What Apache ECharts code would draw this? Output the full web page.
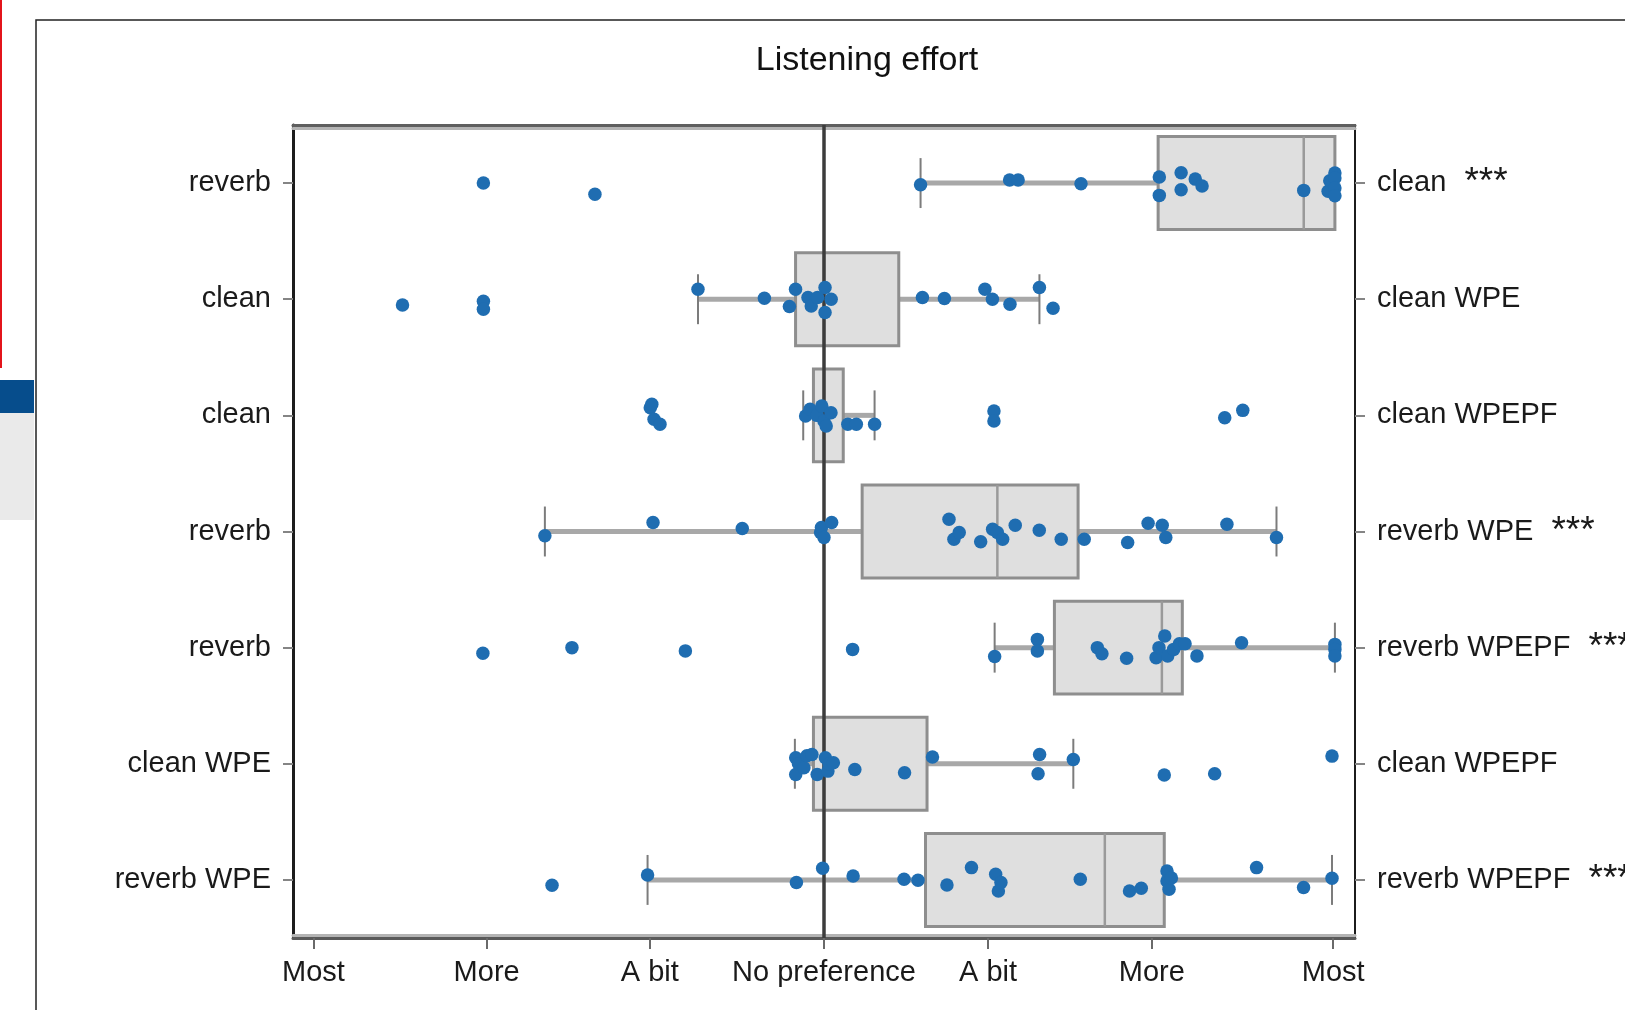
<!DOCTYPE html>
<html><head><meta charset="utf-8">
<script src="https://cdn.jsdelivr.net/npm/echarts@6/dist/echarts.min.js"></script>
<style>html,body{margin:0;padding:0;background:#fff;overflow:hidden;} #c{width:1625px;height:1010px;}</style>
</head><body><div id="c"></div>
<script>
// ---- data ----
const titleText = 'Listening effort';
const leftLabels = ['reverb', 'clean', 'clean', 'reverb', 'reverb', 'clean WPE', 'reverb WPE'];
const rightLabels = ['clean  ***', 'clean WPE', 'clean WPEPF', 'reverb WPE  ***', 'reverb WPEPF  ***', 'clean WPEPF', 'reverb WPEPF  ***'];
const tickValues = [-2.998, -1.981, -1.023, 0, 0.963, 1.925, 2.99];
const tickLabels = ['Most', 'More', 'A bit', 'No preference', 'A bit', 'More', 'Most'];
const xMin = -3.118, xMax = 3.118;
const refLineX = 0;

// box statistics per row (top to bottom)
const boxLow    = [0.567, -0.74, -0.122, -1.639, 1.002, -0.171, -1.036];
const boxQ1     = [1.962, -0.167, -0.062, 0.224, 1.353, -0.062, 0.596];
const boxMedian = [2.817, 0.0, 0.0, 1.018, 1.984, 0.0, 1.649];
const boxQ3     = [3.0, 0.439, 0.113, 1.492, 2.104, 0.605, 1.998];
const boxHigh   = [3.0, 1.265, 0.297, 2.657, 3.0, 1.464, 2.983];

// individual ratings (x) and their jitter within the row (fraction of a row)
const r1Values = [-2.0, -1.345, 0.567, 1.09, 1.14, 1.509, 1.969, 1.969, 2.097, 2.097, 2.18, 2.22, 2.817, 2.96, 2.97, 3.0, 3.0, 3.0, 3.0];
const r1Jitter = [0.0, 0.097, 0.015, -0.026, -0.026, 0.006, -0.052, 0.106, -0.089, 0.058, -0.034, 0.026, 0.063, 0.07, -0.02, -0.086, -0.043, 0.043, 0.11];
const r2Values = [-2.475, -2.0, -2.0, -0.74, -0.35, -0.203, -0.167, -0.094, -0.075, 0.006, 0.006, -0.038, 0.042, 0.578, 0.707, 0.945, 0.989, 1.092, 1.265, 1.345];
const r2Jitter = [0.049, 0.017, 0.086, -0.086, -0.009, 0.063, -0.086, -0.015, 0.058, -0.1, 0.114, -0.015, 0.0, -0.015, -0.006, -0.086, 0.0, 0.043, -0.1, 0.077];
const r3Values = [-1.02, -1.011, -0.998, -0.963, -0.108, -0.082, -0.041, -0.013, 0.0, 0.013, 0.041, 0.14, 0.19, 0.297, 0.998, 0.998, 2.353, 2.459];
const r3Jitter = [-0.066, -0.095, 0.034, 0.077, 0.006, -0.052, 0.0, -0.08, 0.049, 0.092, -0.023, 0.077, 0.077, 0.077, -0.037, 0.049, 0.02, -0.043];
const r4Values = [-1.639, -1.004, -0.48, -0.02, -0.015, 0.0, 0.045, 0.734, 0.763, 0.794, 0.92, 0.99, 1.018, 1.049, 1.123, 1.264, 1.393, 1.528, 1.783, 1.903, 1.986, 2.007, 2.366, 2.657];
const r4Jitter = [0.037, -0.077, -0.026, 0.009, -0.034, 0.052, -0.077, -0.106, 0.066, 0.009, 0.089, -0.02, 0.009, 0.066, -0.054, -0.011, 0.066, 0.066, 0.095, -0.071, -0.054, 0.052, -0.063, 0.052];
const r5Values = [-2.003, -1.48, -0.814, 0.168, 1.002, 1.253, 1.253, 1.605, 1.632, 1.777, 1.95, 1.967, 2.001, 2.018, 2.053, 2.087, 2.12, 2.19, 2.452, 3.0, 3.0, 3.0];
const r5Jitter = [0.049, 0.0, 0.028, 0.015, 0.077, -0.071, 0.028, 0.0, 0.052, 0.092, 0.086, 0.0, -0.1, 0.071, 0.015, -0.034, -0.034, 0.071, -0.043, -0.028, 0.015, 0.071];
const r6Values = [-0.166, -0.166, -0.15, -0.118, -0.1, -0.071, -0.04, 0.008, 0.023, 0.03, 0.055, 0.181, 0.473, 0.637, 1.266, 1.257, 1.464, 1.998, 2.294, 2.983];
const r6Jitter = [-0.052, 0.092, 0.0, 0.034, -0.07, -0.08, 0.092, -0.052, 0.063, 0.0, -0.009, 0.049, 0.077, -0.058, -0.08, 0.086, -0.037, 0.097, 0.086, -0.066];
const r7Values = [-1.597, -1.036, -0.162, -0.008, 0.171, 0.47, 0.552, 0.722, 0.866, 1.008, 1.024, 1.039, 1.505, 1.794, 1.863, 2.014, 2.014, 2.026, 2.04, 2.54, 2.816, 2.983];
const r7Jitter = [0.046, -0.043, 0.023, -0.1, -0.034, -0.006, 0.003, 0.043, -0.106, -0.049, 0.095, 0.023, -0.006, 0.095, 0.071, -0.077, 0.009, 0.08, -0.017, -0.106, 0.066, -0.015];

// ---- build ----
const rowValues = [r1Values, r2Values, r3Values, r4Values, r5Values, r6Values, r7Values];
const rowJitter = [r1Jitter, r2Jitter, r3Jitter, r4Jitter, r5Jitter, r6Jitter, r7Jitter];
const scatterData = [];
rowValues.forEach(function (vals, i) {
  vals.forEach(function (v, k) { scatterData.push([v, i + 0.5 + rowJitter[i][k]]); });
});
const boxData = leftLabels.map(function (_, i) {
  return [i, boxLow[i], boxQ1[i], boxMedian[i], boxQ3[i], boxHigh[i]];
});

const FONT = 'Liberation Sans, Arial, sans-serif';
const chart = echarts.init(document.getElementById('c'), null, { renderer: 'canvas' });

function renderBox(params, api) {
  const cat = api.value(0);
  const lo = api.coord([api.value(1), cat]);
  const q1 = api.coord([api.value(2), cat]);
  const md = api.coord([api.value(3), cat]);
  const q3 = api.coord([api.value(4), cat]);
  const hi = api.coord([api.value(5), cat]);
  const band = api.size([0, 1])[1];
  const bh = band * 0.8, ch = band * 0.43;
  const cy = lo[1];
  const wStyle = { stroke: '#a8a8a8', lineWidth: 5 };
  const cStyle = { stroke: '#7c7c7c', lineWidth: 2 };
  return {
    type: 'group',
    children: [
      { type: 'line', shape: { x1: lo[0], y1: cy, x2: q1[0], y2: cy }, style: wStyle },
      { type: 'line', shape: { x1: q3[0], y1: cy, x2: hi[0], y2: cy }, style: wStyle },
      { type: 'line', shape: { x1: lo[0], y1: cy - ch / 2, x2: lo[0], y2: cy + ch / 2 }, style: cStyle },
      { type: 'line', shape: { x1: hi[0], y1: cy - ch / 2, x2: hi[0], y2: cy + ch / 2 }, style: cStyle },
      { type: 'rect', shape: { x: q1[0], y: cy - bh / 2, width: q3[0] - q1[0], height: bh },
        style: { fill: '#dfdfdf', stroke: '#8e8e8e', lineWidth: 3 } },
      { type: 'line', shape: { x1: md[0], y1: cy - bh / 2, x2: md[0], y2: cy + bh / 2 },
        style: { stroke: '#9a9a9a', lineWidth: 2.5 } }
    ]
  };
}

function rightFormatter(label) {
  const idx = label.indexOf('  ');
  if (idx < 0) return label;
  return label.slice(0, idx) + '  {s|' + label.slice(idx + 2) + '}';
}

const option = {
  animation: false,
  backgroundColor: '#ffffff',
  title: {
    text: titleText, left: 862, top: 39, textAlign: 'center',
    textStyle: { fontFamily: FONT, fontSize: 34, fontWeight: 'normal', color: '#111' }
  },
  graphic: [
    { type: 'rect', shape: { x: 0, y: 0, width: 2, height: 368 }, style: { fill: '#e3141b' }, silent: true },
    { type: 'rect', shape: { x: 0, y: 380, width: 34, height: 33 }, style: { fill: '#064d8c' }, silent: true },
    { type: 'rect', shape: { x: 0, y: 413, width: 34, height: 107 }, style: { fill: '#eaeaea' }, silent: true },
    { type: 'rect', shape: { x: 36, y: 20, width: 1700, height: 1100 }, style: { fill: 'none', stroke: '#222', lineWidth: 1.5 }, silent: true, z: -1 }
  ],
  grid: { left: 293, top: 125, right: 270, bottom: 72, containLabel: false, outerBoundsMode: 'none' },
  xAxis: [
    {
      type: 'value', min: xMin, max: xMax, position: 'bottom',
      axisLine: { show: true, onZero: false, lineStyle: { color: '#5a5a5a', width: 3 } },
      axisTick: { show: true, customValues: tickValues, length: 11, lineStyle: { color: '#6a6a6a', width: 2 } },
      axisLabel: {
        customValues: tickValues, margin: 20, fontFamily: FONT, fontSize: 29, color: '#1a1a1a',
        formatter: function (v) {
          let best = 0;
          tickValues.forEach(function (t, i) { if (Math.abs(t - v) < Math.abs(tickValues[best] - v)) best = i; });
          return tickLabels[best];
        }
      },
      splitLine: { show: false }
    },
    {
      type: 'value', min: xMin, max: xMax, position: 'top',
      axisLine: { show: true, onZero: false, lineStyle: { color: '#5f5f5f', width: 3 } },
      axisTick: { show: false }, axisLabel: { show: false }, splitLine: { show: false }
    },
    {
      type: 'value', min: xMin, max: xMax, position: 'bottom', offset: -3,
      axisLine: { show: true, onZero: false, lineStyle: { color: '#b4b4b4', width: 3 } },
      axisTick: { show: false }, axisLabel: { show: false }, splitLine: { show: false }
    },
    {
      type: 'value', min: xMin, max: xMax, position: 'top', offset: -3,
      axisLine: { show: true, onZero: false, lineStyle: { color: '#b4b4b4', width: 3 } },
      axisTick: { show: false }, axisLabel: { show: false }, splitLine: { show: false }
    }
  ],
  yAxis: [
    {
      type: 'category', data: leftLabels, inverse: true, position: 'left',
      axisLine: { show: true, onZero: false, lineStyle: { color: '#1c1c1c', width: 3 } },
      axisTick: { show: true, alignWithLabel: true, length: 10, lineStyle: { color: '#858585', width: 2 } },
      axisLabel: { margin: 22, fontFamily: FONT, fontSize: 29, color: '#1a1a1a' },
      splitLine: { show: false }
    },
    {
      type: 'category', data: rightLabels, inverse: true, position: 'right',
      axisLine: { show: true, onZero: false, lineStyle: { color: '#1c1c1c', width: 2 } },
      axisTick: { show: true, alignWithLabel: true, length: 10, lineStyle: { color: '#858585', width: 2 } },
      axisLabel: {
        margin: 22, fontFamily: FONT, fontSize: 29, color: '#1a1a1a',
        formatter: rightFormatter,
        rich: { s: { fontFamily: FONT, fontSize: 37, color: '#1a1a1a', padding: [0, 0, 0, 2] } }
      },
      splitLine: { show: false }
    },
    { type: 'value', min: 0, max: 7, inverse: true, show: false, axisLine: { onZero: false } }
  ],
  series: [
    {
      type: 'custom', name: 'box', xAxisIndex: 0, yAxisIndex: 0, z: 2,
      renderItem: renderBox,
      dimensions: ['row', 'low', 'q1', 'median', 'q3', 'high'],
      encode: { y: 0, x: [1, 2, 3, 4, 5] },
      data: boxData
    },
    {
      type: 'line', name: 'ref', xAxisIndex: 0, yAxisIndex: 2, z: 3,
      symbol: 'none', silent: true,
      lineStyle: { color: '#3c3c3c', width: 3.5 },
      data: [[refLineX, 0], [refLineX, 7]]
    },
    {
      type: 'scatter', name: 'ratings', xAxisIndex: 0, yAxisIndex: 2, z: 4,
      symbol: 'circle', symbolSize: 13.5,
      itemStyle: { color: '#1f6db1', opacity: 1 },
      data: scatterData
    }
  ]
};
chart.setOption(option);
</script></body></html>
